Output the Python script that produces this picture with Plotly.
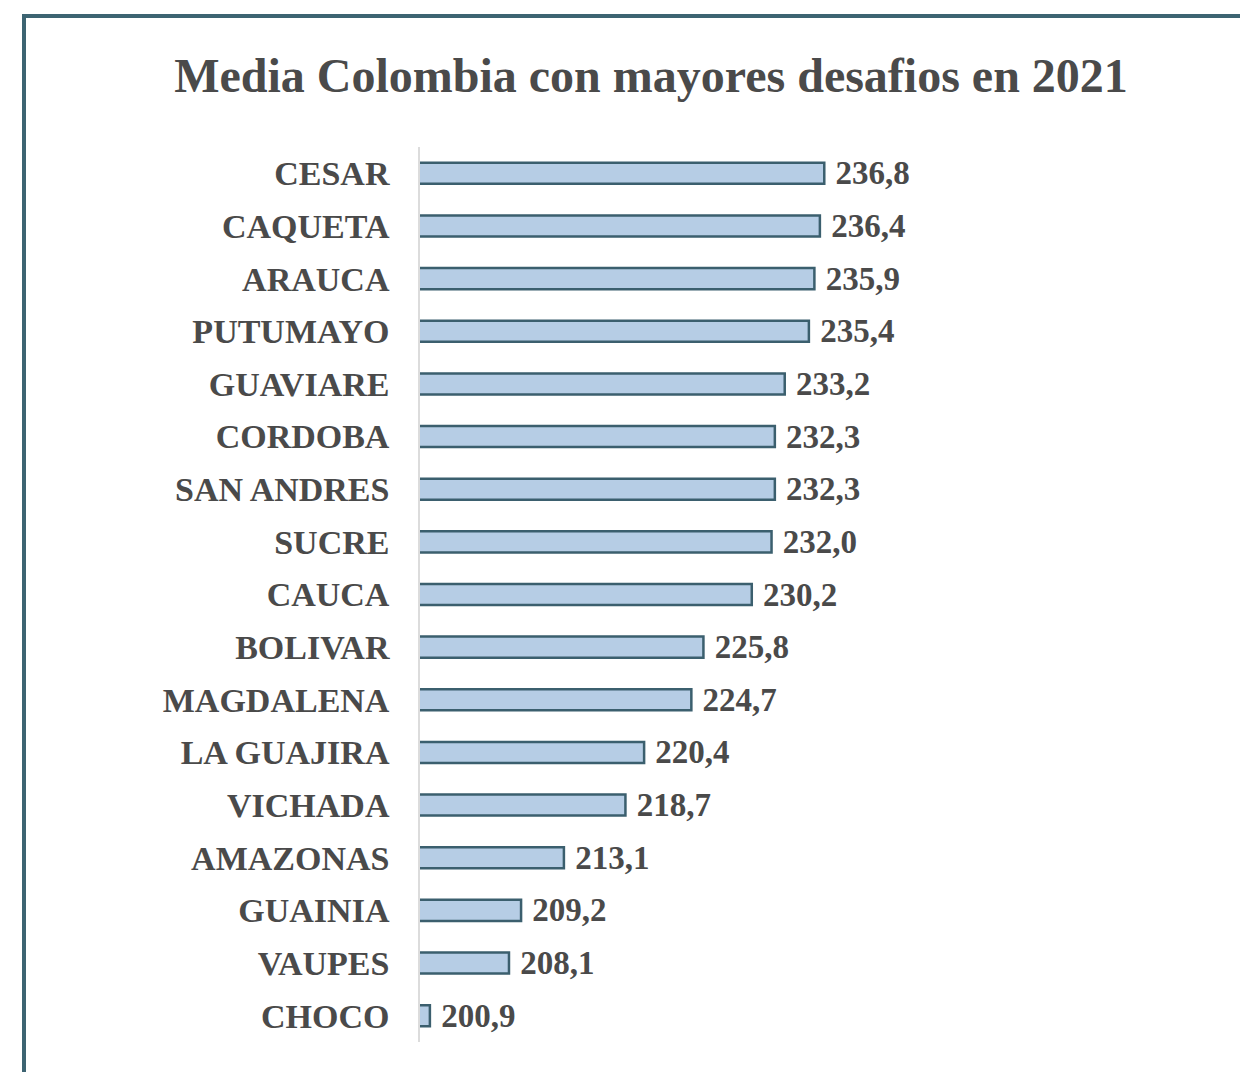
import plotly.graph_objects as go

categories = ["CESAR", "CAQUETA", "ARAUCA", "PUTUMAYO", "GUAVIARE", "CORDOBA",
              "SAN ANDRES", "SUCRE", "CAUCA", "BOLIVAR", "MAGDALENA", "LA GUAJIRA",
              "VICHADA", "AMAZONAS", "GUAINIA", "VAUPES", "CHOCO"]
values = [236.8, 236.4, 235.9, 235.4, 233.2, 232.3, 232.3, 232.0, 230.2, 225.8,
          224.7, 220.4, 218.7, 213.1, 209.2, 208.1, 200.9]
title_text = "Media Colombia con mayores desafios en 2021"

W, H = 1240, 1072
L, R = 420, 1189
T, B = 147, 1042

FONT = "Liberation Serif, Times New Roman, serif"
TXT = "#4a4a4a"

fig = go.Figure(go.Bar(
    x=values, y=categories, orientation="h",
    marker=dict(color="#b6cde5", line=dict(color="#3b5f6e", width=2.5)),
    width=0.4,
    text=["<b>\u00a0" + f"{v:.1f}".replace(".", ",") + "</b>" for v in values],
    textposition="outside", cliponaxis=False, constraintext="none",
    textfont=dict(family=FONT, size=33, color=TXT),
    hoverinfo="skip",
))

fig.update_layout(
    width=W, height=H,
    margin=dict(l=L, r=W - R, t=T, b=H - B),
    paper_bgcolor="white", plot_bgcolor="white",
    showlegend=False,
    font=dict(family=FONT, color=TXT),
    title=dict(text="<b>" + title_text + "</b>", xref="container", yref="container",
               x=651 / W, y=1 - 75 / H, xanchor="center", yanchor="middle",
               font=dict(family=FONT, size=48, color="#4a4a4a")),
    xaxis=dict(range=[200, 270], showgrid=False, zeroline=False, showticklabels=False,
               showline=False, fixedrange=True),
    yaxis=dict(autorange="reversed", showgrid=False, zeroline=False,
               showline=True, linecolor="#dcdcdc", linewidth=1.5,
               ticks="", ticklabelstandoff=22,
               tickvals=categories,
               ticktext=["<b>" + c + "</b>" for c in categories],
               tickfont=dict(family=FONT, size=34, color=TXT)),
)

# frame border around the chart (extends beyond right/bottom edges)
pw, ph = R - L, B - T
def px(x):
    return (x - L) / pw
def py(y):
    return (B - y) / ph

fig.add_shape(type="rect", xref="paper", yref="paper",
              x0=px(24), x1=px(W + 20), y0=py(16), y1=py(H + 20),
              line=dict(color="#3d6472", width=4), fillcolor="rgba(0,0,0,0)", layer="above")

fig.write_html("out.html", config={"displayModeBar": False},
               post_script="document.body.style.margin='0';")
